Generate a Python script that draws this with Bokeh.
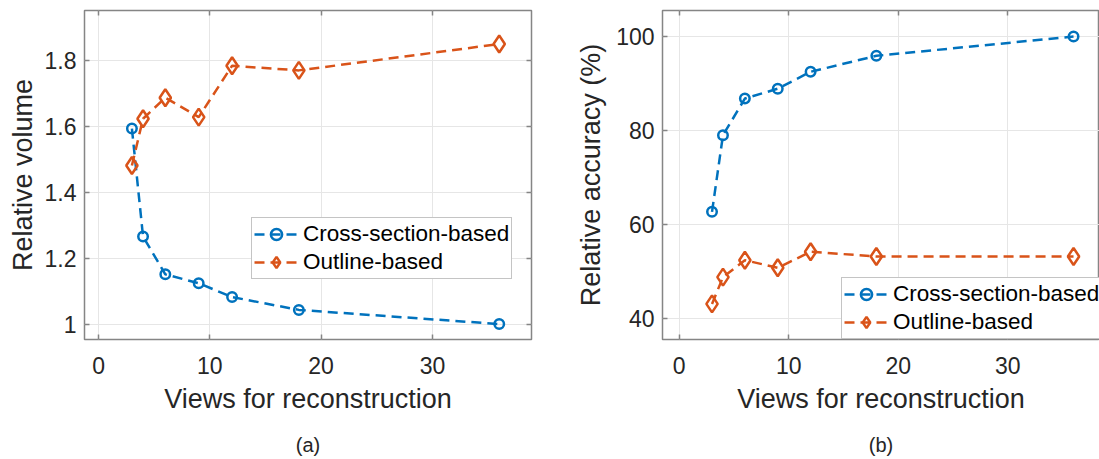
from bokeh.plotting import figure
from bokeh.models import Range1d, FixedTicker, LinearAxis, Legend, LegendItem
from bokeh.layouts import row
from bokeh.embed import file_html
from bokeh.resources import INLINE

# ---------------- data ----------------
views = [3, 4, 6, 9, 12, 18, 36]
vol_cross = [1.594, 1.266, 1.151, 1.124, 1.082, 1.043, 1.000]
vol_outline = [1.482, 1.624, 1.688, 1.629, 1.785, 1.771, 1.851]
acc_cross = [62.7, 79.0, 86.8, 88.9, 92.5, 95.9, 100.0]
acc_outline = [43.1, 48.8, 52.4, 50.8, 54.2, 53.2, 53.2]

series_names = ["Cross-section-based", "Outline-based"]
x_ticks = [0, 10, 20, 30]
x_tick_labels = ["0", "10", "20", "30"]
vol_ticks = [1, 1.2, 1.4, 1.6, 1.8]
vol_tick_labels = ["1", "1.2", "1.4", "1.6", "1.8"]
acc_ticks = [40, 60, 80, 100]
acc_tick_labels = ["40", "60", "80", "100"]
x_label = "Views for reconstruction"
y_label_a = "Relative volume"
y_label_b = "Relative accuracy (%)"
captions = ["(a)", "(b)"]

# ---------------- style ----------------
FONT = "Liberation Sans"
BLUE = "#0072BD"
ORANGE = "#D95319"
TXT = "#262626"
AX = "#858585"
GRID = "#e6e6e6"
FRAME_H = 329
TOP = 10
HEIGHT = 459


def style_axis(ax, ticks, labels, show_labels=True):
    ax.ticker = FixedTicker(ticks=ticks)
    ax.axis_line_color = None
    ax.major_tick_in = 5
    ax.major_tick_out = 0
    ax.major_tick_line_color = AX
    ax.major_tick_line_width = 1.5
    ax.minor_tick_line_color = None
    if show_labels:
        ax.major_label_overrides = dict(zip(ticks, labels))
        ax.major_label_text_font = FONT
        ax.major_label_text_font_size = "23px"
        ax.major_label_text_color = TXT
        ax.axis_label_text_font = FONT
        ax.axis_label_text_font_size = "27px"
        ax.axis_label_text_font_style = "normal"
        ax.axis_label_text_color = TXT
    else:
        ax.major_label_text_font_size = "0px"
        ax.major_label_text_color = None
        ax.major_label_standoff = 0


def make_panel(xr, yr, yticks, ylabels, ylab, ys1, ys2, legend_loc, caption,
               width, bl, br, ylab_standoff, show_right=True):
    p = figure(width=width, height=HEIGHT, x_range=Range1d(*xr), y_range=Range1d(*yr),
               output_backend="svg", toolbar_location=None,
               min_border_left=bl, min_border_right=br, min_border_top=TOP,
               min_border_bottom=HEIGHT - TOP - FRAME_H)
    p.background_fill_color = "white"
    p.border_fill_color = "white"
    p.outline_line_color = AX
    p.outline_line_width = 1.5

    style_axis(p.xaxis[0], x_ticks, x_tick_labels)
    p.xaxis[0].axis_label = x_label
    p.xaxis[0].major_label_standoff = 17
    p.xaxis[0].axis_label_standoff = 7
    style_axis(p.yaxis[0], yticks, ylabels)
    p.yaxis[0].axis_label = ylab
    p.yaxis[0].major_label_standoff = 8
    p.yaxis[0].axis_label_standoff = ylab_standoff

    top = LinearAxis()
    style_axis(top, x_ticks, x_tick_labels, show_labels=False)
    p.add_layout(top, "above")
    if show_right:
        right = LinearAxis()
        style_axis(right, yticks, ylabels, show_labels=False)
        p.add_layout(right, "right")

    # caption "(a)"/"(b)" as the label of an extra, tickless axis below
    cap = LinearAxis(ticker=FixedTicker(ticks=[]), axis_label=caption)
    cap.axis_line_color = None
    cap.major_tick_line_color = None
    cap.minor_tick_line_color = None
    cap.major_tick_in = 0
    cap.major_tick_out = 0
    cap.major_label_text_font_size = "0px"
    cap.major_label_text_color = None
    cap.major_label_standoff = 0
    cap.axis_label_standoff = 17
    cap.axis_label_text_font = FONT
    cap.axis_label_text_font_size = "20px"
    cap.axis_label_text_font_style = "normal"
    cap.axis_label_text_color = TXT
    p.add_layout(cap, "below")

    p.xgrid.ticker = FixedTicker(ticks=x_ticks)
    p.ygrid.ticker = FixedTicker(ticks=yticks)
    p.xgrid.grid_line_color = GRID
    p.ygrid.grid_line_color = GRID

    l1 = p.line(views, ys1, line_color=BLUE, line_width=2.5, line_dash="10 6")
    m1 = p.scatter(views, ys1, marker="circle", size=9.5, fill_color=None,
                   line_color=BLUE, line_width=2.5)
    l2 = p.line(views, ys2, line_color=ORANGE, line_width=2.5, line_dash="10 6")
    m2 = p.scatter(views, ys2, marker="diamond", size=17, fill_color=None,
                   line_color=ORANGE, line_width=2.5)

    legend = Legend(items=[LegendItem(label=series_names[0], renderers=[l1, m1]),
                           LegendItem(label=series_names[1], renderers=[l2, m2])],
                    location=legend_loc, margin=0, padding=2, spacing=0,
                    glyph_width=44, glyph_height=28, label_height=28,
                    label_standoff=5, label_text_font=FONT,
                    label_text_font_size="22.5px", label_text_color="black",
                    border_line_color="#8a8a8a", border_line_width=1.2,
                    background_fill_color="white", background_fill_alpha=1.0)
    p.add_layout(legend, "center")
    return p


pa = make_panel((-1.26, 38.9), (0.953, 1.953), vol_ticks, vol_tick_labels,
                y_label_a, vol_cross, vol_outline, (167, 60), captions[0],
                width=573, bl=84, br=42, ylab_standoff=4)
pb = make_panel((-1.52, 38.37), (35.53, 105.54), acc_ticks, acc_tick_labels, y_label_b,
                acc_cross, acc_outline, (179, 0), captions[1],
                width=526, bl=88, br=0, ylab_standoff=7, show_right=False)

layout = row(pa, pb)
open("out.html", "w").write(file_html(layout, INLINE))
